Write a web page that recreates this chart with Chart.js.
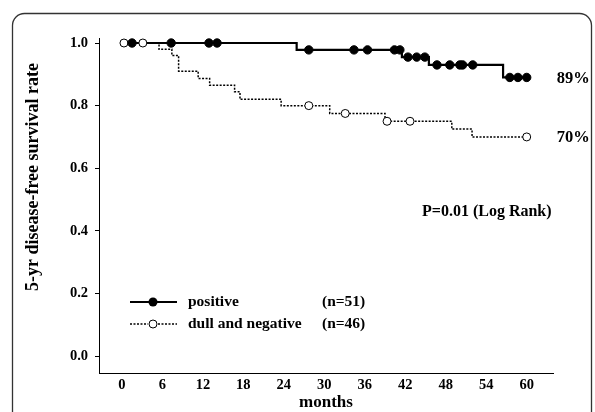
<!DOCTYPE html>
<html>
<head>
<meta charset="utf-8">
<script src="https://cdn.jsdelivr.net/npm/chart.js@4.4.1/dist/chart.umd.min.js"></script>
<style>
  html, body { margin: 0; padding: 0; background: #fff; }
  canvas { display: block; }
</style>
</head>
<body>
<canvas id="dfs" width="595" height="412"></canvas>
<script>
// positive 群 (n=51)：イベント時点と生存率
const posEventMonths = [0, 25.9, 41.5, 45.5, 56.5];
const posSurvival = [1.0, 0.978, 0.955, 0.93, 0.89];
const posCensorMonths = [1.5, 7.3, 12.9, 14.1, 27.7, 34.4, 36.4, 40.4, 41.2, 42.4, 43.7, 44.9,
                         46.7, 48.6, 50.1, 50.5, 52.0, 57.5, 58.7, 60];

// dull and negative 群 (n=46)
const negEventMonths = [0, 5.5, 7.4, 8.4, 11.3, 13.0, 16.7, 17.5, 23.6, 30.8, 39.0, 48.9, 51.9];
const negSurvival = [1.0, 0.98, 0.96, 0.91, 0.887, 0.865, 0.844, 0.82, 0.80, 0.775, 0.75, 0.725, 0.70];
const negCensorMonths = [0.3, 3.1, 27.7, 33.1, 39.3, 42.7, 60];

const groupNames = ["positive", "dull and negative"];
const groupCounts = [51, 46];
const pValueText = "P=0.01 (Log Rank)";

// 目盛り
const xTicks = [0, 6, 12, 18, 24, 30, 36, 42, 48, 54, 60];
const yTicks = [0, 0.2, 0.4, 0.6, 0.8, 1.0];
const followUpEnd = 60;

const serif = '"Liberation Serif", "Times New Roman", serif';

// ある時点の生存率 (階段関数)
function survivalAt(t, months, surv) {
    let s = surv[0];
    for (let i = 0; i < months.length; i++) {
        if (months[i] <= t) s = surv[i];
    }
    return s;
}

function stepPoints(months, surv) {
    const pts = months.map((m, i) => ({ x: m, y: surv[i] }));
    pts.push({ x: followUpEnd, y: surv[surv.length - 1] });
    return pts;
}

function censorPoints(censors, months, surv) {
    return censors.map(t => ({ x: t, y: survivalAt(t, months, surv) }));
}

// 枠・タイトル・凡例・注記
const decor = {
    id: "decor",
    beforeDraw(chart) {
        const ctx = chart.ctx;
        ctx.save();
        ctx.strokeStyle = "#333";
        ctx.lineWidth = 1.3;
        ctx.beginPath();
        ctx.roundRect(12.5, 13.5, 579, 430, 12);
        ctx.stroke();
        ctx.restore();
    },
    afterDraw(chart) {
        const ctx = chart.ctx;
        const x = chart.scales.x, y = chart.scales.y;
        ctx.save();
        ctx.fillStyle = "#000";
        ctx.strokeStyle = "#000";

        // 軸タイトル
        ctx.font = "bold 17px " + serif;
        ctx.textAlign = "center";
        ctx.textBaseline = "middle";
        ctx.fillText("months", 326, 403);
        ctx.save();
        ctx.translate(33, 177);
        ctx.rotate(-Math.PI / 2);
        ctx.font = "bold 18px " + serif;
        ctx.fillText("5-yr disease-free survival rate", 0, 0);
        ctx.restore();

        // 最終生存率
        ctx.font = "bold 16.5px " + serif;
        ctx.textAlign = "left";
        const endX = x.getPixelForValue(followUpEnd) + 30;
        const posEnd = posSurvival[posSurvival.length - 1];
        const negEnd = negSurvival[negSurvival.length - 1];
        ctx.fillText(Math.round(posEnd * 100) + "%", endX, y.getPixelForValue(posEnd) + 1);
        ctx.fillText(Math.round(negEnd * 100) + "%", endX, y.getPixelForValue(negEnd) + 1);

        ctx.font = "bold 16px " + serif;
        ctx.fillText(pValueText, 422, 212);

        // 凡例
        const rows = [302, 324];
        ctx.font = "bold 15.5px " + serif;
        // positive
        ctx.lineWidth = 2.2;
        ctx.setLineDash([]);
        ctx.beginPath();
        ctx.moveTo(130, rows[0]);
        ctx.lineTo(177, rows[0]);
        ctx.stroke();
        ctx.beginPath();
        ctx.arc(153, rows[0], 4.5, 0, Math.PI * 2);
        ctx.fill();
        // dull and negative
        ctx.lineWidth = 1.5;
        ctx.setLineDash([2, 1.5]);
        ctx.beginPath();
        ctx.moveTo(130, rows[1]);
        ctx.lineTo(148, rows[1]);
        ctx.moveTo(158, rows[1]);
        ctx.lineTo(177, rows[1]);
        ctx.stroke();
        ctx.setLineDash([]);
        ctx.lineWidth = 1;
        ctx.beginPath();
        ctx.arc(153, rows[1], 4, 0, Math.PI * 2);
        ctx.fillStyle = "#fff";
        ctx.fill();
        ctx.stroke();
        ctx.fillStyle = "#000";

        groupNames.forEach((name, i) => {
            ctx.fillText(name, 188, rows[i]);
            ctx.fillText("(n=" + groupCounts[i] + ")", 322, rows[i]);
        });
        ctx.restore();
    }
};

const config = {
    type: "line",
    data: {
        datasets: [
            {
                label: "positive censored",
                data: censorPoints(posCensorMonths, posEventMonths, posSurvival),
                showLine: false,
                pointRadius: 4.2,
                pointBackgroundColor: "#000",
                pointBorderColor: "#000",
                pointBorderWidth: 1,
                order: 0
            },
            {
                label: "dull and negative censored",
                data: censorPoints(negCensorMonths, negEventMonths, negSurvival),
                showLine: false,
                pointRadius: 4,
                pointBackgroundColor: "#fff",
                pointBorderColor: "#000",
                pointBorderWidth: 1,
                order: 1
            },
            {
                label: groupNames[0],
                data: stepPoints(posEventMonths, posSurvival),
                stepped: true,
                borderColor: "#000",
                borderWidth: 2.2,
                pointRadius: 0,
                order: 2
            },
            {
                label: groupNames[1],
                data: stepPoints(negEventMonths, negSurvival),
                stepped: true,
                borderColor: "#000",
                borderWidth: 1.5,
                borderDash: [2, 1.5],
                pointRadius: 0,
                order: 3
            }
        ]
    },
    options: {
        responsive: false,
        animation: false,
        clip: false,
        layout: { padding: { top: 38, right: 42, left: 0, bottom: 0 } },
        plugins: {
            legend: { display: false },
            tooltip: { enabled: false }
        },
        scales: {
            x: {
                type: "linear",
                min: -3.4,
                max: 63.9,
                afterBuildTicks: scale => { scale.ticks = xTicks.map(v => ({ value: v })); },
                afterFit: scale => { scale.height = 39; },
                grid: { display: false, drawTicks: false },
                border: { display: true, color: "#000", width: 1, dash: [2, 1] },
                ticks: {
                    padding: 4,
                    color: "#000",
                    font: { family: serif, size: 14.5, weight: "bold" },
                    callback: v => String(v)
                }
            },
            y: {
                type: "linear",
                min: -0.054,
                max: 1.016,
                afterBuildTicks: scale => { scale.ticks = yTicks.map(v => ({ value: v })); },
                afterFit: scale => { scale.width = 99; },
                grid: { display: true, drawOnChartArea: false, drawTicks: true, tickLength: 4, color: "#000", lineWidth: 1 },
                border: { display: true, color: "#000", width: 1, dash: [2, 1] },
                ticks: {
                    padding: 7,
                    color: "#000",
                    font: { family: serif, size: 14.5, weight: "bold" },
                    callback: v => v.toFixed(1)
                }
            }
        }
    },
    plugins: [decor]
};

window.addEventListener("load", function() {
    const ctx = document.getElementById("dfs").getContext("2d");
    new Chart(ctx, config);
}, false);
</script>
</body>
</html>
